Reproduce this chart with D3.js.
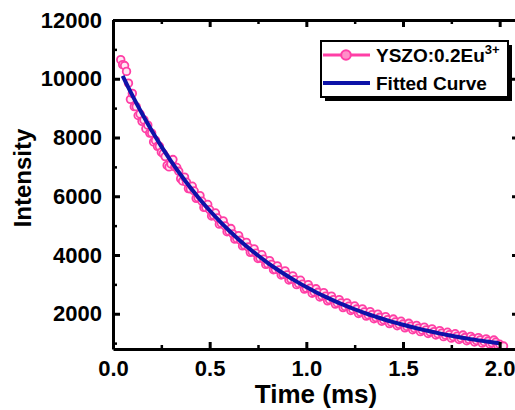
<!DOCTYPE html>
<html lang="en">
<head>
<meta charset="UTF-8">
<title>Decay Curve</title>
<style>
  html, body { margin: 0; padding: 0; background: #fff; }
  svg { display: block; font-family: Arial, "Liberation Sans", sans-serif; font-weight: bold; }
</style>
</head>
<body>
<svg id="svg" width="515" height="410"></svg>
<script src="https://d3js.org/d3.v7.min.js"></script>
<script>
// measured decay, [time (ms), intensity], samples on even hundredths
const measured = [
  [0.04, 10650], [0.06, 10450], [0.08, 9850], [0.10, 9500], [0.12, 9050],
  [0.14, 8800], [0.16, 8600], [0.18, 8420], [0.20, 8150], [0.22, 7900],
  [0.24, 7700], [0.26, 7450], [0.28, 7050], [0.30, 7100], [0.32, 7000],
  [0.34, 6850], [0.36, 6520], [0.38, 6480], [0.40, 6250], [0.42, 6180],
  [0.44, 5950], [0.46, 5830], [0.48, 5620], [0.50, 5540], [0.52, 5350],
  [0.54, 5260], [0.56, 5080], [0.58, 4990], [0.60, 4810], [0.62, 4720],
  [0.64, 4560], [0.66, 4500], [0.68, 4330], [0.70, 4270], [0.72, 4110],
  [0.74, 4060], [0.76, 3900], [0.78, 3860], [0.80, 3700], [0.82, 3680],
  [0.84, 3510], [0.86, 3490], [0.88, 3340], [0.90, 3320], [0.92, 3180],
  [0.94, 3160], [0.96, 3030], [0.98, 3010], [1.00, 2870], [1.02, 2870],
  [1.04, 2740], [1.06, 2730], [1.08, 2610], [1.10, 2600], [1.12, 2480],
  [1.14, 2480], [1.16, 2370], [1.18, 2370], [1.20, 2250], [1.22, 2260],
  [1.24, 2150], [1.26, 2160], [1.28, 2050], [1.30, 2060], [1.32, 1960],
  [1.34, 1970], [1.36, 1870], [1.38, 1880], [1.40, 1790], [1.42, 1800],
  [1.44, 1710], [1.46, 1720], [1.48, 1640], [1.50, 1650], [1.52, 1570],
  [1.54, 1580], [1.56, 1500], [1.58, 1510], [1.60, 1440], [1.62, 1450],
  [1.64, 1380], [1.66, 1390], [1.68, 1320], [1.70, 1340], [1.72, 1270],
  [1.74, 1290], [1.76, 1220], [1.78, 1240], [1.80, 1170], [1.82, 1190],
  [1.84, 1130], [1.86, 1150], [1.88, 1090], [1.90, 1110], [1.92, 1050],
  [1.94, 1070], [1.96, 1010], [1.98, 1030], [2.00, 960]
];

// samples on odd hundredths
const measuredOdd = [
  [0.05, 10480], [0.07, 10250], [0.09, 9300], [0.11, 9050], [0.13, 8750],
  [0.15, 8550], [0.17, 8300], [0.19, 8150], [0.21, 7850], [0.23, 7700],
  [0.25, 7500], [0.27, 7350], [0.29, 7000], [0.31, 7250], [0.33, 6980],
  [0.35, 6600], [0.37, 6650], [0.39, 6260], [0.41, 6340], [0.43, 5930],
  [0.45, 6020], [0.47, 5620], [0.49, 5720], [0.51, 5330], [0.53, 5430],
  [0.55, 5050], [0.57, 5160], [0.59, 4790], [0.61, 4900], [0.63, 4540],
  [0.65, 4660], [0.67, 4310], [0.69, 4430], [0.71, 4090], [0.73, 4210],
  [0.75, 3880], [0.77, 4010], [0.79, 3680], [0.81, 3810], [0.83, 3500],
  [0.85, 3630], [0.87, 3320], [0.89, 3460], [0.91, 3150], [0.93, 3290],
  [0.95, 2990], [0.97, 3140], [0.99, 2840], [1.01, 2990], [1.03, 2700],
  [1.05, 2850], [1.07, 2570], [1.09, 2720], [1.11, 2440], [1.13, 2600],
  [1.15, 2330], [1.17, 2480], [1.19, 2210], [1.21, 2370], [1.23, 2110],
  [1.25, 2265], [1.27, 2010], [1.29, 2165], [1.31, 1920], [1.33, 2070],
  [1.35, 1830], [1.37, 1985], [1.39, 1745], [1.41, 1900], [1.43, 1665],
  [1.45, 1820], [1.47, 1590], [1.49, 1745], [1.51, 1520], [1.53, 1675],
  [1.55, 1455], [1.57, 1605], [1.59, 1390], [1.61, 1545], [1.63, 1330],
  [1.65, 1485], [1.67, 1275], [1.69, 1425], [1.71, 1220], [1.73, 1370],
  [1.75, 1170], [1.77, 1320], [1.79, 1125], [1.81, 1275], [1.83, 1080],
  [1.85, 1230], [1.87, 1040], [1.89, 1185], [1.91, 1000], [1.93, 1145],
  [1.95, 965], [1.97, 1105], [1.99, 930], [2.02, 900]
];

// fitted curve
const fitted = [
  [0.05, 10101], [0.10, 9435], [0.15, 8815], [0.20, 8238], [0.25, 7700],
  [0.30, 7199], [0.35, 6733], [0.40, 6297], [0.45, 5892], [0.50, 5515],
  [0.55, 5163], [0.60, 4836], [0.65, 4531], [0.70, 4247], [0.75, 3983],
  [0.80, 3735], [0.85, 3506], [0.90, 3292], [0.95, 3093], [1.00, 2907],
  [1.05, 2734], [1.10, 2573], [1.15, 2423], [1.20, 2283], [1.25, 2153],
  [1.30, 2032], [1.35, 1919], [1.40, 1813], [1.45, 1715], [1.50, 1624],
  [1.55, 1539], [1.60, 1459], [1.65, 1385], [1.70, 1316], [1.75, 1252],
  [1.80, 1193], [1.85, 1137], [1.90, 1085], [1.95, 1037], [2.00, 992]
];

const xTicks = [0, 0.5, 1.0, 1.5, 2.0];
const xMinorTicks = [0.25, 0.75, 1.25, 1.75];
const yTicks = [2000, 4000, 6000, 8000, 10000, 12000];
const yMinorTicks = [1000, 3000, 5000, 7000, 9000, 11000];
const seriesNames = ['YSZO:0.2Eu', 'Fitted Curve'];

const pink = '#ff3fa6';
const blue = '#0d12a8';

const plot = { left: 113, right: 519, top: 20, bottom: 349 };

const svg = d3.select('#svg');

const x = d3.scaleLinear().domain([0, 2.1]).range([plot.left, plot.right]);
const y = d3.scaleLinear().domain([800, 12000]).range([plot.bottom, plot.top]);

// scatter of measured points
svg.append('g')
  .selectAll('circle')
  .data(measured.concat(measuredOdd).sort((a, b) => a[0] - b[0]))
  .join('circle')
  .attr('cx', d => x(d[0]))
  .attr('cy', d => y(d[1]))
  .attr('r', 3.8)
  .attr('fill', '#ffe6f3')
  .attr('stroke', pink)
  .attr('stroke-width', 1.8);

// fitted line
const line = d3.line()
  .x(d => x(d[0]))
  .y(d => y(d[1]))
  .curve(d3.curveMonotoneX);

svg.append('path')
  .datum(fitted)
  .attr('fill', 'none')
  .attr('stroke', blue)
  .attr('stroke-width', 4)
  .attr('d', line);

// axes, ticks all pointing inward
function drawAxis(axisFn, scale, ticks, minor, transform, labels) {
  const major = axisFn(scale).tickValues(ticks).tickSize(-7).tickSizeOuter(0).tickPadding(11);
  if (!labels) major.tickFormat('');
  else major.tickFormat(labels);
  const g = svg.append('g').attr('transform', transform).call(major);
  g.select('.domain').attr('stroke-width', 3);
  g.selectAll('.tick line').attr('stroke-width', 3);
  g.selectAll('.tick text').attr('font-size', 22).attr('font-weight', 'bold').attr('fill', '#000');
  const m = svg.append('g').attr('transform', transform)
    .call(axisFn(scale).tickValues(minor).tickSize(-4).tickSizeOuter(0).tickFormat(''));
  m.select('.domain').remove();
  m.selectAll('.tick line').attr('stroke-width', 2.5);
  return g;
}

drawAxis(d3.axisBottom, x, xTicks, xMinorTicks, `translate(0,${plot.bottom})`, d3.format('.1f'));
drawAxis(d3.axisTop, x, xTicks, xMinorTicks, `translate(0,${plot.top})`, null);
drawAxis(d3.axisLeft, y, yTicks, yMinorTicks, `translate(${plot.left},0)`, d3.format('d'));
drawAxis(d3.axisRight, y, yTicks, yMinorTicks, `translate(${plot.right},0)`, null);

// axis titles
svg.append('text')
  .attr('x', 316)
  .attr('y', 403)
  .attr('text-anchor', 'middle')
  .attr('font-size', 26)
  .text('Time (ms)');

svg.append('text')
  .attr('transform', 'translate(31,178) rotate(-90)')
  .attr('text-anchor', 'middle')
  .attr('font-size', 24)
  .text('Intensity');

// legend with shadow
const lg = svg.append('g').attr('transform', 'translate(321,41)');
lg.append('rect').attr('x', 4).attr('y', 4).attr('width', 187).attr('height', 56).attr('fill', '#000');
lg.append('rect').attr('x', 0).attr('y', 0).attr('width', 187).attr('height', 56)
  .attr('fill', '#fff').attr('stroke', '#000').attr('stroke-width', 2);

lg.append('line').attr('x1', 2).attr('x2', 49).attr('y1', 14).attr('y2', 14)
  .attr('stroke', pink).attr('stroke-width', 3);
lg.append('circle').attr('cx', 25).attr('cy', 14).attr('r', 4.8)
  .attr('fill', '#ff8fc8').attr('stroke', pink).attr('stroke-width', 2);
lg.append('line').attr('x1', 2).attr('x2', 49).attr('y1', 42).attr('y2', 42)
  .attr('stroke', blue).attr('stroke-width', 4);

const t1 = lg.append('text').attr('x', 55).attr('y', 21).attr('font-size', 19);
t1.append('tspan').text(seriesNames[0]);
t1.append('tspan').attr('dy', -8).attr('font-size', 13).text('3+');
lg.append('text').attr('x', 55).attr('y', 49).attr('font-size', 19).text(seriesNames[1]);
</script>
</body>
</html>
